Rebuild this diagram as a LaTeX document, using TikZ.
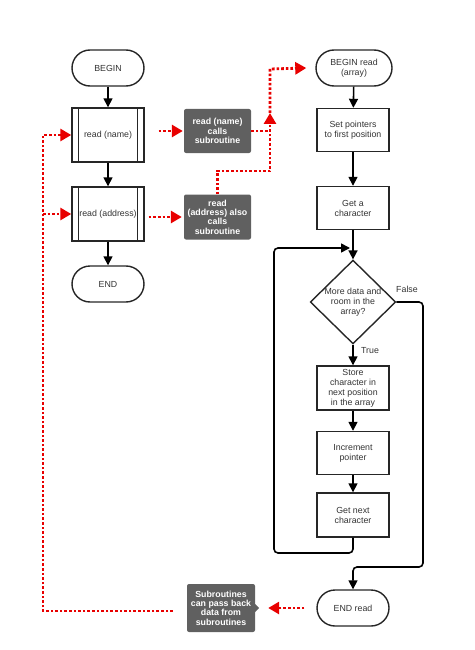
\documentclass[tikz,border=0pt]{standalone}
\usepackage{fontspec}
\setmainfont{Liberation Sans}
\usetikzlibrary{arrows.meta,shapes.geometric,calc}
\definecolor{txt}{RGB}{51,51,51}
\definecolor{callgray}{RGB}{96,96,96}
\definecolor{dotred}{RGB}{232,0,0}
\begin{document}
\begin{tikzpicture}[x=1pt,y=-1pt,
  every node/.style={font=\fontsize{8.8}{10}\selectfont, text=txt, align=center},
  term/.style={draw=black!85, line width=1.4pt, rounded corners=18pt, minimum width=72pt, minimum height=36pt, inner sep=0pt},
  proc/.style={draw=black!85, line width=1.4pt, minimum width=72pt, minimum height=43pt, inner sep=0pt},
  subr/.style={proc, minimum height=54pt},
  callout/.style={fill=callgray, rounded corners=2pt, text=white, font=\bfseries\fontsize{8.8}{9.3}\selectfont, minimum width=67pt, inner sep=1pt},
  flow/.style={draw=black, line width=1.6pt, -{Triangle[width=9pt,length=9pt]}},
  reddot/.style={draw=dotred, line width=2.8pt, dash pattern=on 2.6pt off 2pt, -{Triangle[width=12pt,length=11pt]}},
  reddotplain/.style={draw=dotred, line width=2.8pt, dash pattern=on 2.6pt off 2pt}
]
\useasboundingbox (0,0) rectangle (474,650);

% left column
\node[term] (b) at (108,68) {BEGIN};
\node[subr] (rn) at (108,135) {read (name)};
\node[subr] (ra) at (108,214) {read (address)};
\node[term] (e) at (108,284) {END};
\foreach \n in {rn,ra}{
  \draw[line width=1.4pt, draw=black!85] ([xshift=7pt]\n.north west) -- ([xshift=7pt]\n.south west);
  \draw[line width=1.4pt, draw=black!85] ([xshift=-7pt]\n.north east) -- ([xshift=-7pt]\n.south east);
}
\draw[flow] (b) -- (rn);
\draw[flow] (rn) -- (ra);
\draw[flow] (ra) -- (e);

% callouts
\node[callout, minimum height=44pt] (c1) at (217.5,131) {read (name)\\calls\\subroutine};
\node[callout, minimum height=45pt] (c2) at (217.5,217) {read\\(address) also\\calls\\subroutine};
\node[callout, minimum height=48pt, minimum width=68pt] (c3) at (221,608) {Subroutines\\can pass back\\data from\\subroutines};
\fill[callgray] ([yshift=-4pt]c3.east) -- ([xshift=4pt]c3.east) -- ([yshift=4pt]c3.east) -- cycle;

% right column
\node[term, minimum width=76pt] (br) at (354,68) {BEGIN read\\(array)};
\node[proc] (sp) at (353,130) {Set pointers\\to first position};
\node[proc] (gc) at (353,208) {Get a\\character};
\node[diamond, draw=black!85, line width=1.4pt, minimum width=84pt, minimum height=82pt, inner sep=0pt, aspect=1.02] (dm) at (353,302) {More data and\\room in the\\array?};
\node[proc, minimum height=44pt] (st) at (353,388) {Store\\character in\\next position\\in the array};
\node[proc] (ip) at (353,453) {Increment\\pointer};
\node[proc, minimum height=44pt] (gn) at (353,515) {Get next\\character};
\node[term] (er) at (353,608) {END read};

\draw[flow] (br) -- (sp);
\draw[flow] (sp) -- (gc);
\draw[flow] (gc) -- (dm);
\draw[flow] (dm) -- node[pos=0.3, right=4pt] {True} (st);
\draw[flow] (st) -- (ip);
\draw[flow] (ip) -- (gn);
\coordinate (loopin) at (350,248);
\draw[flow, rounded corners=4pt] (gn.south) -- (353,553) -- (274,553) -- (274,248) -- (loopin);
\draw[flow, rounded corners=4pt] (dm.east) -- (423,302) -- (423,567) -- (353,567) -- (er.north);
\node (fl) at (407,289) {False};

% red dotted connectors
\draw[reddot] ([xshift=14pt]rn.east |- c1.west) -- ([xshift=-1pt]c1.west);
\draw[reddot] ([xshift=4pt]ra.east |- c2.west) -- ([xshift=-2pt]c2.west);
\coordinate (up) at (270,113);
\draw[reddotplain] (c1.east) -- (270,131);
\draw[reddot] (c2.north) -- (217.5,171) -- (270,171) -- (up);
\draw[reddot] (up) -- (270,69) -- ([xshift=-9pt]br.west);
\draw[reddot] ([xshift=-12pt]er.west) -- ([xshift=13pt]c3.east);
\draw[reddot] ([xshift=-14pt]c3.west |- 0,611) -- (43,611) -- (43,135) -- (rn.west);
\draw[reddot] (43,214) -- (ra.west);
\end{tikzpicture}
\end{document}
